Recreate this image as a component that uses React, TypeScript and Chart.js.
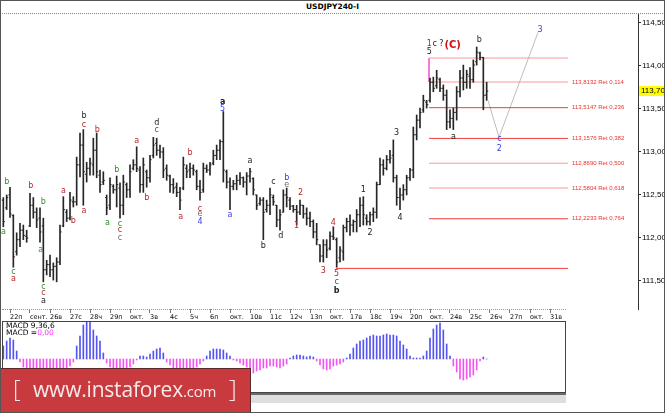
import React, { useEffect, useRef } from 'react';
import { Chart, registerables } from 'chart.js';

Chart.register(...registerables);

// H4 bars, bar 0 = first bar of 22 Sept (6 bars per day)
const FIRST_BAR = -2;

const barHigh = [
  112.47, 112.50, 112.59, 112.27, 112.06, 112.17, 112.15, 112.09, 112.52, 112.47,
  112.35, 112.35, 112.23, 111.74, 111.80, 111.71, 111.77, 112.15, 112.48, 112.33,
  112.53, 112.48, 112.94, 113.22, 113.26, 112.88, 112.93, 113.16, 113.22, 112.79,
  112.77, 112.50, 112.70, 112.62, 112.72, 112.64, 112.73, 112.64, 112.85, 112.91,
  113.06, 112.83, 112.93, 112.79, 112.96, 113.17, 113.16, 113.08, 113.05, 112.85,
  112.73, 112.69, 112.64, 112.59, 112.94, 112.85, 112.87, 112.85, 112.79, 112.67,
  112.87, 112.85, 112.88, 113.02, 113.08, 113.14, 113.47, 112.79, 112.70, 112.67,
  112.73, 112.76, 112.71, 112.76, 112.81, 112.70, 112.50, 112.47, 112.47, 112.44,
  112.58, 112.50, 112.38, 112.33, 112.56, 112.58, 112.47, 112.38, 112.38, 112.44,
  112.38, 112.35, 112.30, 112.21, 112.17, 111.92, 111.98, 111.98, 112.07, 112.13,
  112.00, 111.90, 112.15, 112.23, 112.27, 112.21, 112.33, 112.47, 112.48, 112.27,
  112.30, 112.35, 112.65, 112.93, 112.91, 112.96, 113.02, 113.14, 112.73, 112.58,
  112.62, 112.73, 112.81, 113.29, 113.43, 113.51, 113.66, 113.60, 113.86, 113.87,
  113.95, 113.86, 113.78, 113.72, 113.49, 113.51, 113.76, 113.95, 114.01, 113.95,
  113.98, 114.07, 114.22, 114.16, 114.10, 113.81,
];
const barLow = [
  112.13, 112.33, 112.24, 111.66, 111.80, 111.90, 111.98, 111.95, 112.13, 112.23,
  112.12, 111.95, 111.49, 111.57, 111.55, 111.51, 111.49, 111.69, 112.13, 112.19,
  112.21, 112.36, 112.38, 112.71, 112.38, 112.65, 112.73, 112.73, 112.70, 112.53,
  112.62, 112.27, 112.33, 112.52, 112.36, 112.23, 112.27, 112.47, 112.47, 112.79,
  112.77, 112.53, 112.53, 112.59, 112.65, 112.93, 112.96, 112.93, 112.70, 112.67,
  112.53, 112.52, 112.48, 112.33, 112.56, 112.70, 112.70, 112.73, 112.56, 112.44,
  112.53, 112.76, 112.73, 112.85, 112.91, 112.91, 112.65, 112.58, 112.33, 112.56,
  112.56, 112.62, 112.59, 112.50, 112.65, 112.50, 112.33, 112.38, 111.98, 112.30,
  112.27, 112.38, 112.13, 112.09, 112.30, 112.36, 112.33, 112.30, 112.15, 112.27,
  112.23, 112.15, 112.13, 112.00, 111.92, 111.72, 111.72, 111.77, 111.86, 111.98,
  111.66, 111.72, 111.74, 112.07, 112.03, 112.07, 112.07, 112.13, 112.15, 112.15,
  112.15, 112.19, 112.23, 112.62, 112.73, 112.79, 112.87, 112.65, 112.38, 112.33,
  112.44, 112.50, 112.67, 112.70, 113.14, 113.28, 113.46, 113.51, 113.58, 113.70,
  113.74, 113.70, 113.60, 113.26, 113.28, 113.26, 113.37, 113.64, 113.72, 113.74,
  113.74, 113.81, 114.01, 114.07, 113.49, 113.60,
];
const barOpen = [
  112.44, 112.35, 112.50, 112.26, 111.84, 111.98, 112.09, 112.02, 112.14, 112.38,
  112.30, 112.23, 112.14, 111.63, 111.69, 111.63, 111.67, 111.72, 112.14, 112.30,
  112.23, 112.42, 112.42, 112.85, 113.08, 112.74, 112.81, 112.85, 113.02, 112.73,
  112.65, 112.47, 112.38, 112.60, 112.56, 112.58, 112.38, 112.62, 112.56, 112.81,
  112.85, 112.79, 112.62, 112.77, 112.70, 112.96, 113.10, 113.02, 113.00, 112.81,
  112.72, 112.62, 112.59, 112.53, 112.58, 112.81, 112.79, 112.81, 112.77, 112.60,
  112.56, 112.81, 112.79, 112.87, 112.96, 113.02, 113.12, 112.77, 112.65, 112.60,
  112.63, 112.67, 112.70, 112.65, 112.72, 112.69, 112.50, 112.40, 112.44, 112.33,
  112.38, 112.47, 112.38, 112.21, 112.30, 112.50, 112.44, 112.37, 112.33, 112.30,
  112.38, 112.28, 112.23, 112.19, 112.07, 111.92, 111.79, 111.92, 111.88, 112.02,
  111.98, 111.77, 111.84, 112.12, 112.19, 112.15, 112.19, 112.27, 112.38, 112.23,
  112.19, 112.27, 112.30, 112.62, 112.85, 112.81, 112.91, 112.96, 112.70, 112.47,
  112.50, 112.56, 112.70, 112.79, 113.20, 113.37, 113.49, 113.58, 113.60, 113.81,
  113.77, 113.84, 113.74, 113.66, 113.35, 113.39, 113.46, 113.70, 113.86, 113.81,
  113.88, 113.84, 114.05, 114.15, 114.10, 113.66,
];
const barClose = [
  112.19, 112.47, 112.28, 111.78, 111.98, 112.09, 112.03, 112.00, 112.38, 112.30,
  112.21, 112.07, 111.63, 111.69, 111.63, 111.67, 111.72, 112.07, 112.33, 112.23,
  112.44, 112.42, 112.85, 113.08, 112.77, 112.81, 112.87, 113.02, 112.77, 112.62,
  112.67, 112.35, 112.62, 112.56, 112.62, 112.38, 112.65, 112.56, 112.77, 112.85,
  112.81, 112.62, 112.85, 112.70, 112.91, 113.08, 113.02, 113.00, 112.79, 112.73,
  112.62, 112.58, 112.53, 112.44, 112.85, 112.77, 112.81, 112.79, 112.60, 112.53,
  112.81, 112.79, 112.85, 112.96, 113.02, 113.12, 112.79, 112.65, 112.60, 112.63,
  112.67, 112.70, 112.65, 112.72, 112.77, 112.56, 112.38, 112.44, 112.30, 112.38,
  112.50, 112.42, 112.21, 112.27, 112.50, 112.47, 112.37, 112.33, 112.30, 112.38,
  112.28, 112.23, 112.19, 112.07, 111.98, 111.79, 111.92, 111.86, 112.02, 112.00,
  111.72, 111.86, 112.12, 112.19, 112.15, 112.19, 112.27, 112.38, 112.27, 112.19,
  112.27, 112.30, 112.62, 112.85, 112.81, 112.91, 112.93, 112.70, 112.47, 112.50,
  112.56, 112.70, 112.79, 113.20, 113.37, 113.46, 113.60, 113.55, 113.81, 113.74,
  113.86, 113.74, 113.66, 113.35, 113.39, 113.46, 113.70, 113.86, 113.81, 113.90,
  113.84, 114.01, 114.16, 114.10, 113.66, 113.707,
];

// MACD(9,36,6) histogram, one value per bar
const macdHist = [
  0.13, 0.18, 0.21, 0.19, 0.08, -0.03, -0.08, -0.12, -0.15, -0.16,
  -0.17, -0.17, -0.16, -0.15, -0.14, -0.13, -0.12, -0.11, -0.10, -0.09,
  -0.07, -0.03, 0.13, 0.23, 0.34, 0.38, 0.37, 0.29, 0.23, 0.18,
  0.06, -0.04, -0.08, -0.10, -0.12, -0.12, -0.11, -0.10, -0.08, -0.05,
  -0.01, 0.03, 0.03, 0.02, 0.05, 0.08, 0.10, 0.11, 0.06, -0.03,
  -0.06, -0.09, -0.11, -0.13, -0.14, -0.14, -0.13, -0.11, -0.08, -0.05,
  -0.02, 0.03, 0.08, 0.10, 0.10, 0.10, 0.09, 0.06, 0.03, -0.01,
  -0.02, -0.04, -0.06, -0.08, -0.11, -0.14, -0.12, -0.11, -0.09, -0.09,
  -0.07, -0.07, -0.08, -0.09, -0.07, -0.05, 0.01, 0.03, 0.04, 0.04,
  0.03, 0.02, 0.03, 0.02, -0.02, -0.06, -0.10, -0.11, -0.10, -0.07,
  -0.06, -0.05, -0.03, 0.01, 0.05, 0.11, 0.15, 0.18, 0.19, 0.21,
  0.23, 0.24, 0.23, 0.23, 0.24, 0.25, 0.24, 0.24, 0.23, 0.18,
  0.14, 0.10, 0.03, 0.01, 0.01, 0.01, 0.03, 0.08, 0.21, 0.30,
  0.34, 0.36, 0.29, 0.15, 0.03, -0.07, -0.13, -0.20, -0.21, -0.20,
  -0.18, -0.16, -0.11, -0.02, 0.02, 0,
];

const dayLabels = [
  '22п', 'сент.', '26в', '27с', '28ч', '29п', 'окт.', '3в', '4с', '5ч',
  '6п', 'окт.', '10в', '11с', '12ч', '13п', 'окт.', '17в', '18с', '19ч',
  '20п', 'окт.', '24в', '25с', '26ч', '27п', 'окт.', '31в',
];
const priceTicks = [111.5, 112, 112.5, 113, 113.5, 114, 114.5];

const fibLevels = [114.092, 113.8132, 113.5147, 113.1576, 112.869, 112.5804, 112.2233, 111.646];
const fibRatios = ['', '0,114', '0,236', '0,382', '0,500', '0,618', '0,764', ''];
const fibStart = [125.7, 125.7, 125.7, 125.7, 125.7, 125.7, 125.7, 97.8];
const FIB_END = 167.4;

// expected path: c / 2 then 3
const projBars = [143.4, 146.7, 158.4];
const projPrices = [113.6, 113.17, 114.39];

const GREEN = '#2f8f2f';
const RED = '#b3282d';
const BLUE = '#3a3ae6';
const BLACK = '#1c1c1c';
const GRAY = '#6e6e6e';

// wave marks: text, bar, price, colour, bold
const waveLabels: [string, number, number, string, boolean?][] = [
  ['b', -1, 112.65, GREEN], ['a', -2, 112.07, GREEN], ['c', 1, 111.6, GREEN], ['a', 1, 111.52, RED],
  ['b', 6.2, 112.6, RED], ['b', 10, 112.415, GREEN], ['a', 9.2, 111.86, GREEN],
  ['c', 10, 111.43, GREEN], ['c', 10, 111.36, RED], ['a', 10, 111.27, BLACK],
  ['a', 16, 112.55, RED], ['b', 19, 112.2, RED], ['b', 22.2, 113.42, BLACK], ['c', 22.2, 113.31, RED],
  ['a', 22.2, 112.31, RED], ['b', 26.2, 113.26, RED], ['a', 29.2, 112.17, GREEN], ['b', 32, 112.79, GREEN],
  ['c', 33, 112.16, GREEN], ['c', 33, 112.09, RED], ['c', 33, 112.0, GRAY],
  ['a', 38, 113.13, RED], ['b', 41, 112.46, RED], ['d', 44, 113.34, BLACK], ['c', 44, 113.26, RED],
  ['a', 51.2, 112.25, RED], ['b', 54, 112.99, RED], ['c', 57, 112.34, RED], ['e', 57, 112.28, GRAY],
  ['4', 57, 112.19, BLUE], ['a', 63.8, 113.58, BLACK, true], ['5', 63.8, 113.5, BLUE],
  ['a', 66, 112.27, BLUE], ['a', 72, 112.89, BLACK], ['b', 76, 111.91, BLACK], ['c', 79, 112.65, BLACK],
  ['d', 81.2, 112.02, BLACK], ['b', 83, 112.7, BLUE], ['e', 83, 112.62, GRAY], ['1', 86, 112.14, RED],
  ['2', 87.2, 112.52, RED], ['3', 94, 111.62, RED], ['4', 97, 112.17, RED], ['5', 98, 111.58, RED],
  ['c', 98, 111.49, BLUE], ['b', 98, 111.39, BLACK, true],
  ['1', 106, 112.56, BLACK], ['2', 108, 112.06, BLACK], ['3', 116, 113.22, BLACK], ['4', 117, 112.23, BLACK],
  ['a', 133, 113.18, BLACK], ['1', 125.8, 114.26, BLUE], ['5', 125.8, 114.16, BLACK],
  ['c ?', 128.4, 114.26, BLACK], ['(C)', 132.8, 114.24, '#d01010', true], ['b', 140.8, 114.3, BLACK],
  ['c', 146.8, 113.15, BLUE], ['2', 146.8, 113.04, BLUE], ['3', 159, 114.42, BLUE],
];

const BAR_COLOR = '#262626';
const FIB_RED = '#f23c3c';
const FIB_PINK = '#f79a9a';
const fibColors = [FIB_PINK, FIB_PINK, FIB_RED, FIB_RED, FIB_PINK, FIB_PINK, FIB_RED, FIB_RED];
const AXIS_FONT = '8px "Liberation Sans"';

const fmt = (v: number, d: number) => v.toFixed(d).replace('.', ',');

const priceOverlay = {
  id: 'priceOverlay',
  afterDatasetsDraw(chart: any) {
    const { ctx } = chart;
    const x = chart.scales.x;
    const y = chart.scales.y;
    ctx.save();
    // open / close ticks
    ctx.strokeStyle = BAR_COLOR;
    ctx.lineWidth = 1;
    ctx.beginPath();
    barOpen.forEach((open, k) => {
      const px = x.getPixelForValue(FIRST_BAR + k);
      const po = y.getPixelForValue(open);
      const pc = y.getPixelForValue(barClose[k]);
      ctx.moveTo(px - 1.6, po);
      ctx.lineTo(px, po);
      ctx.moveTo(px, pc);
      ctx.lineTo(px + 1.6, pc);
    });
    ctx.stroke();

    // fibo texts
    ctx.font = '6px "Liberation Sans"';
    ctx.fillStyle = '#e8332f';
    ctx.textAlign = 'left';
    ctx.textBaseline = 'middle';
    fibLevels.forEach((lvl, k) => {
      if (!fibRatios[k]) return;
      ctx.fillText(`${fmt(lvl, 4)} Ret ${fibRatios[k]}`, x.getPixelForValue(FIB_END) + 4, y.getPixelForValue(lvl));
    });

    // wave marks
    ctx.textAlign = 'center';
    waveLabels.forEach(([t, bar, price, color, bold]) => {
      ctx.font = bold ? (t === '(C)' ? 'bold 10px "DejaVu Sans"' : 'bold 8px "DejaVu Sans"') : '8px "DejaVu Sans"';
      ctx.fillStyle = color;
      ctx.fillText(t, x.getPixelForValue(bar), y.getPixelForValue(price));
    });
    ctx.restore();
  },
  afterDraw(chart: any) {
    const { ctx, chartArea } = chart;
    const y = chart.scales.y;
    const last = barClose[barClose.length - 1];
    const py = Math.round(y.getPixelForValue(last));
    ctx.save();
    ctx.fillStyle = '#ffff00';
    ctx.fillRect(chartArea.right + 1, py - 5, chart.width - chartArea.right - 1, 10);
    ctx.fillStyle = '#000';
    ctx.font = AXIS_FONT;
    ctx.textAlign = 'left';
    ctx.textBaseline = 'middle';
    ctx.fillText(fmt(last, 3), chartArea.right + 3, py);
    ctx.restore();
  },
};

const PriceChart: React.FC = () => {
  const chartRef = useRef<HTMLCanvasElement>(null);

  useEffect(() => {
    if (!chartRef.current) return;
    const lineSet = (data: { x: number; y: number }[], color: string) => ({
      type: 'line' as const,
      data,
      borderColor: color,
      borderWidth: 1,
      pointRadius: 0,
      fill: false,
    });

    const chart = new Chart(chartRef.current, {
      type: 'bar',
      data: {
        datasets: [
          {
            type: 'bar',
            data: barHigh.map((h, k) => ({ x: FIRST_BAR + k, y: [barLow[k], h] })),
            backgroundColor: BAR_COLOR,
            borderWidth: 0,
            barThickness: 1,
          },
          ...fibLevels.map((lvl, k) =>
            lineSet([{ x: fibStart[k], y: lvl }, { x: FIB_END, y: lvl }], fibColors[k])
          ),
          lineSet([{ x: fibStart[0], y: fibLevels[0] }, { x: fibStart[1], y: fibLevels[1] }], '#f06ad0'),
          lineSet(projBars.map((b, k) => ({ x: b, y: projPrices[k] })), '#bcbcbc'),
        ] as any,
      },
      options: {
        responsive: false,
        animation: false,
        devicePixelRatio: 1,
        events: [],
        layout: { padding: { left: 2, right: 0, top: 0, bottom: 0 } },
        plugins: { legend: { display: false }, tooltip: { enabled: false } },
        scales: {
          x: {
            type: 'linear',
            min: -2.4,
            max: 188.4,
            offset: false,
            afterFit: (s: any) => {
              s.height = 12;
              s.paddingLeft = 0;
              s.paddingRight = 0;
            },
            afterBuildTicks: (s: any) => { s.ticks = dayLabels.map((_, k) => ({ value: k * 6 })); },
            ticks: {
              align: 'start',
              autoSkip: false,
              maxRotation: 0,
              padding: 0,
              color: '#000',
              font: { family: 'DejaVu Sans', size: 6.5 },
              callback: (_v: any, idx: number) => dayLabels[idx],
            },
            grid: { drawOnChartArea: false, tickLength: 4, color: '#777', offset: false },
            border: { display: false },
          },
          y: {
            position: 'right',
            min: 111.174,
            max: 114.604,
            beginAtZero: false,
            afterFit: (s: any) => {
              s.width = 27;
              s.paddingTop = 0;
              s.paddingBottom = 0;
            },
            afterBuildTicks: (s: any) => { s.ticks = priceTicks.map((v) => ({ value: v })); },
            ticks: {
              padding: 1,
              color: '#000',
              font: { family: 'Liberation Sans', size: 8 },
              callback: (v: any) => fmt(Number(v), 3),
            },
            grid: { drawOnChartArea: false, tickLength: 3, color: '#333' },
            border: { color: '#333' },
          },
        },
      } as any,
      plugins: [priceOverlay],
    });

    return () => {
      chart.destroy();
    };
  }, []);

  return (
    <canvas
      ref={chartRef}
      width={665}
      height={307}
      style={{ position: 'absolute', left: 0, top: 14, width: 665, height: 307 }}
    />
  );
};

const MacdChart: React.FC = () => {
  const chartRef = useRef<HTMLCanvasElement>(null);

  useEffect(() => {
    if (!chartRef.current) return;
    const chart = new Chart(chartRef.current, {
      type: 'bar',
      data: {
        datasets: [
          {
            data: macdHist.map((v, k) => ({ x: FIRST_BAR + k, y: v })),
            backgroundColor: macdHist.map((v) => (v >= 0 ? '#5454f2' : '#f254f2')),
            borderWidth: 0,
            barThickness: 1,
          },
        ] as any,
      },
      options: {
        responsive: false,
        animation: false,
        devicePixelRatio: 1,
        events: [],
        layout: { padding: 0 },
        plugins: { legend: { display: false }, tooltip: { enabled: false } },
        scales: {
          x: { type: 'linear', display: false, min: -2.4, max: 166.8, offset: false },
          y: { display: false, min: -0.34, max: 0.38, beginAtZero: false },
        },
      } as any,
    });

    return () => {
      chart.destroy();
    };
  }, []);

  return (
    <canvas
      ref={chartRef}
      width={564}
      height={72}
      style={{ position: 'absolute', left: 2, top: 321, width: 564, height: 72 }}
    />
  );
};

export default function App() {
  return (
    <div
      style={{
        position: 'absolute',
        left: 0,
        top: 0,
        width: 665,
        height: 413,
        background: '#fff',
        overflow: 'hidden',
        fontFamily: '"DejaVu Sans", sans-serif',
      }}
    >
      <div
        style={{
          position: 'absolute', left: 0, top: 0, width: 665, height: 14, boxSizing: 'border-box',
          borderBottom: '1px dotted #888', textAlign: 'center', fontSize: 7.5, fontWeight: 'bold', lineHeight: '13px',
        }}
      >
        USDJPY240-I
      </div>
      <PriceChart />
      <div style={{ position: 'absolute', left: 2, top: 309, width: 564, borderTop: '1px dotted #999' }} />
      <MacdChart />
      <div
        style={{
          position: 'absolute', left: 2, top: 321, width: 564, height: 72,
          boxSizing: 'border-box', border: '1px solid #444', pointerEvents: 'none',
        }}
      />
      <div style={{ position: 'absolute', left: 6, top: 322, fontSize: 7.5, lineHeight: '7px', color: '#000' }}>
        MACD 9,36,6
        <br />
        MACD =<span style={{ color: '#ff33ff' }}>0,00</span>
      </div>
      <div
        style={{
          position: 'absolute', left: 2, top: 393, width: 564, height: 10,
          boxSizing: 'border-box', borderTop: '2px solid #6a6a6a', background: '#dedede',
        }}
      />
      <div
        style={{
          position: 'absolute', left: 0, top: 368, width: 251, height: 45, boxSizing: 'border-box',
          background: '#c93a3e', borderTop: '1px solid #5a2a2a', borderRight: '1px solid #5a2a2a',
          color: '#f6eaea', fontFamily: '"Open Sans", sans-serif', whiteSpace: 'nowrap',
        }}
      >
        <span style={{ position: 'absolute', left: 13, top: 5, fontSize: 24, lineHeight: '28px', fontWeight: 300 }}>[</span>
        <span style={{ position: 'absolute', left: 33, top: 7, fontSize: 21, lineHeight: '26px', letterSpacing: -0.2 }}>
          www.instaforex<span style={{ fontSize: 15 }}>.com</span>
        </span>
        <span style={{ position: 'absolute', left: 229, top: 5, fontSize: 24, lineHeight: '28px', fontWeight: 300 }}>]</span>
      </div>
      <div
        style={{
          position: 'absolute', left: 0, top: 0, width: 665, height: 413,
          boxSizing: 'border-box', border: '1px solid #555', pointerEvents: 'none',
        }}
      />
    </div>
  );
}
